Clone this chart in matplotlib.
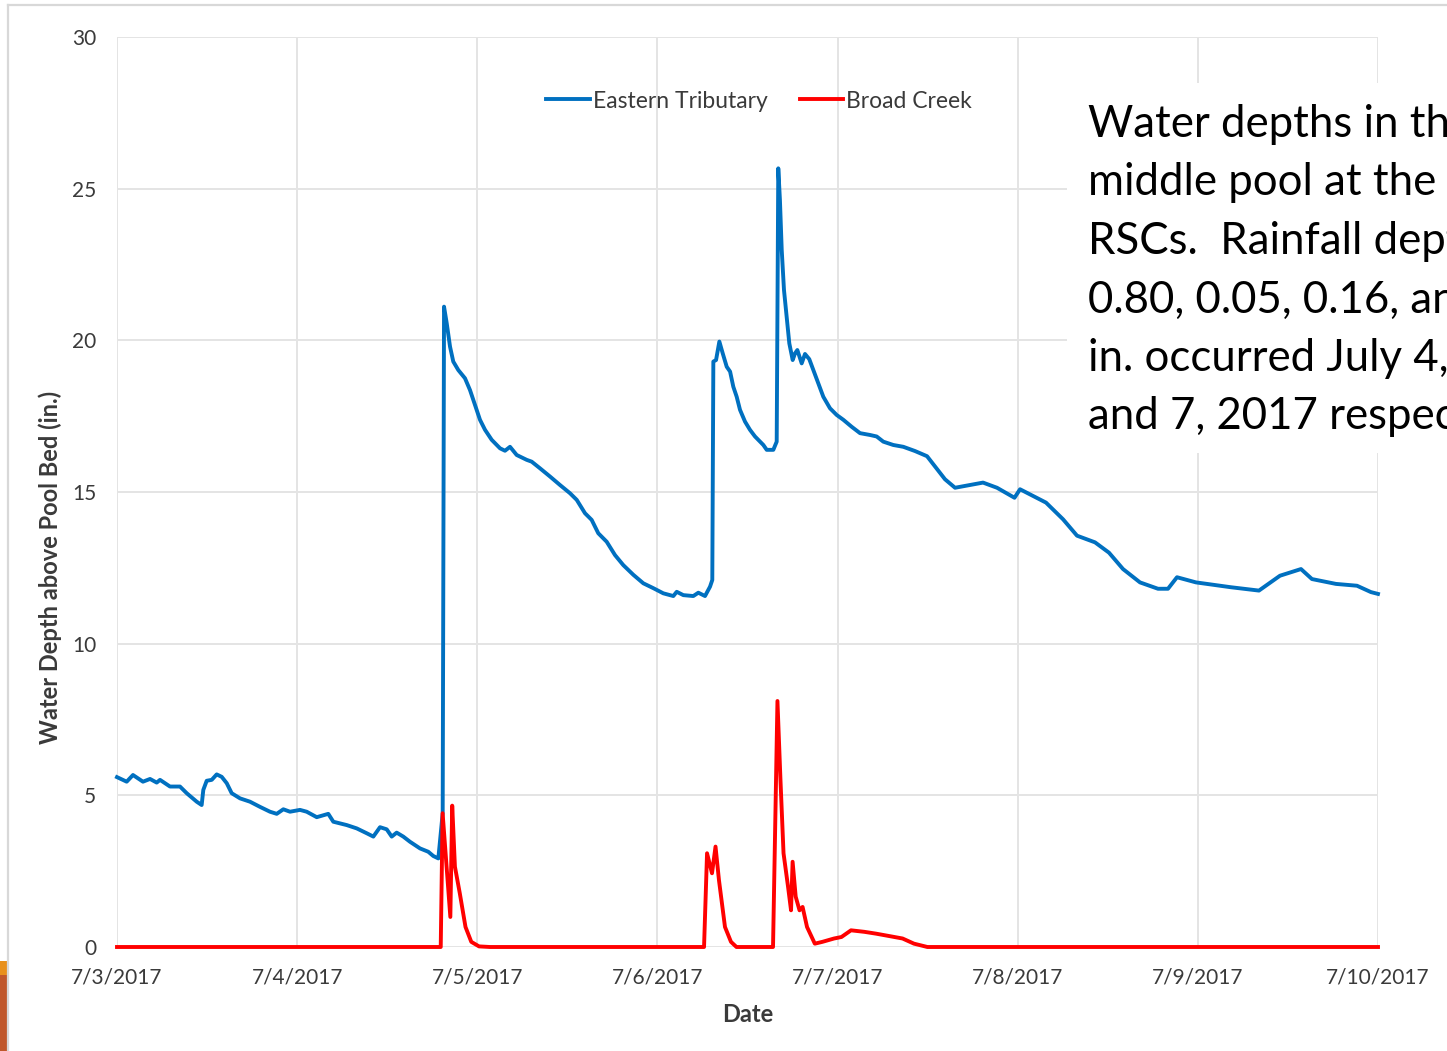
import matplotlib
matplotlib.use("Agg")
import matplotlib.pyplot as plt
from matplotlib.ticker import FuncFormatter, MultipleLocator
from matplotlib.patches import Rectangle
from matplotlib.lines import Line2D
import matplotlib.dates as mdates
import pandas as pd

plt.rcParams["font.family"] = ["Lato", "DejaVu Sans"]

# ---- data: hours after 7/3/2017 00:00 and water depth (in.) ----
start = pd.Timestamp("2017-07-03")

eastern_hours = [
    0.00, 1.29, 2.13, 3.46, 4.40, 5.29, 5.73, 7.06, 8.39, 9.29, 10.62, 11.28,
    11.50, 11.95, 12.62, 13.28, 13.95, 14.62, 15.28, 16.39, 17.72, 19.05, 20.38,
    21.28, 22.16, 23.05, 24.38, 25.27, 26.61, 28.15, 28.82, 30.60, 31.94, 33.27,
    34.15, 35.04, 35.93, 36.60, 37.26, 38.14, 39.03, 40.37, 41.47, 42.14, 42.81,
    43.39, 43.57, 43.93, 44.37, 44.80, 45.47, 46.36, 47.03, 47.69, 48.36, 49.03,
    49.92, 51.03, 51.69, 52.36, 53.25, 54.58, 55.25, 56.36, 57.69, 59.02, 60.35,
    61.25, 62.35, 63.24, 64.12, 65.24, 66.35, 67.45, 68.79, 70.12, 71.45, 72.78,
    74.12, 74.57, 75.45, 76.78, 77.45, 78.34, 79.01, 79.31, 79.45, 79.81, 80.25,
    80.70, 81.23, 81.68, 82.11, 82.56, 83.00, 83.67, 84.33, 85.00, 85.44, 86.11,
    86.56, 87.44, 87.89, 88.10, 88.32, 88.56, 88.86, 89.22, 89.57, 90.02, 90.33,
    90.64, 91.22, 91.66, 92.23, 92.77, 93.43, 94.10, 94.99, 95.88, 96.77, 97.88,
    98.99, 100.32, 101.21, 102.09, 103.42, 104.76, 106.32, 107.92, 110.31,
    111.65, 115.38, 117.24, 119.57, 120.31, 123.77, 126.04, 127.90, 130.30,
    132.16, 134.03, 136.29, 138.69, 140.02, 141.22, 143.75, 148.41, 152.14,
    154.94, 157.74, 159.20, 162.40, 165.20, 167.06, 168.00,
]
eastern_depth = [
    5.60, 5.45, 5.67, 5.45, 5.54, 5.42, 5.51, 5.29, 5.29, 5.07, 4.79, 4.68,
    5.18, 5.48, 5.51, 5.69, 5.61, 5.40, 5.07, 4.90, 4.79, 4.62, 4.46,
    4.39, 4.54, 4.46, 4.52, 4.46, 4.28, 4.39, 4.13, 4.02, 3.91, 3.75,
    3.64, 3.95, 3.88, 3.64, 3.77, 3.64, 3.47, 3.25, 3.14, 3.00, 2.92,
    4.41, 21.11, 20.56, 19.79, 19.30, 19.02, 18.75, 18.36, 17.87, 17.38, 17.05,
    16.72, 16.44, 16.36, 16.49, 16.22, 16.06, 16.00, 15.78, 15.51, 15.23, 14.96,
    14.74, 14.30, 14.08, 13.64, 13.36, 12.92, 12.59, 12.27, 11.99, 11.83, 11.66,
    11.57, 11.71, 11.60, 11.57, 11.68, 11.57, 11.88, 12.10, 19.30, 19.35, 19.96,
    19.57, 19.13, 18.97, 18.47, 18.14, 17.71, 17.32, 17.05, 16.83, 16.72, 16.55,
    16.39, 16.39, 16.66, 25.67, 24.63, 22.98, 21.66, 20.78, 19.90, 19.35, 19.57,
    19.68, 19.24, 19.55, 19.38, 19.02, 18.59, 18.14, 17.76, 17.54, 17.38, 17.15,
    16.94, 16.88, 16.83, 16.66, 16.55, 16.49, 16.35, 16.18, 15.42,
    15.14, 15.31, 15.14, 14.81, 15.09, 14.65, 14.10, 13.56, 13.34,
    13.00, 12.46, 12.02, 11.81, 11.81, 12.19, 12.02, 11.86, 11.75,
    12.24, 12.46, 12.13, 11.97, 11.91, 11.70, 11.64,
]

broad_hours = [
    0.00, 43.13, 43.38, 44.41, 44.66, 45.02, 45.67, 46.43, 47.20, 48.23, 49.69,
    78.21, 78.61, 79.27, 79.74, 80.20, 81.00, 81.80, 82.53,
    87.40, 87.99, 88.39, 88.80, 89.40, 89.80, 90.01, 90.42, 90.93, 91.34,
    91.93, 92.97, 93.98, 95.53, 96.52, 97.79, 99.57, 101.12, 103.12, 104.66,
    106.18, 107.97, 168.00,
]
broad_depth = [
    0.00, 0.00, 4.41, 0.99, 4.66, 2.65, 1.77, 0.66, 0.17, 0.02, 0.00,
    0.00, 3.09, 2.43, 3.31, 2.20, 0.66, 0.17, 0.00,
    0.00, 8.11, 5.52, 3.09, 1.99, 1.21, 2.81, 1.66, 1.21, 1.32,
    0.66, 0.11, 0.17, 0.28, 0.33, 0.55, 0.50, 0.44, 0.35, 0.28,
    0.11, 0.00, 0.00,
]

series_names = ["Eastern Tributary", "Broad Creek"]
x_label = "Date"
y_label = "Water Depth above Pool Bed (in.)"
note_lines = [
    "Water depths in the",
    "middle pool at the",
    "RSCs.  Rainfall depths",
    "0.80, 0.05, 0.16, and",
    "in. occurred July 4,",
    "and 7, 2017 respectively.",
]

eastern_time = start + pd.to_timedelta(eastern_hours, unit="h")
broad_time = start + pd.to_timedelta(broad_hours, unit="h")
day_ticks = pd.date_range("2017-07-03", "2017-07-10", freq="D")

BLUE = "#0070C0"
RED = "#FF0000"
GRID = "#E4E4E4"
TEXT = "#3A3A3A"

W, H = 1447, 1051
fig = plt.figure(figsize=(W / 100, H / 100), dpi=100)
fig.patch.set_facecolor("white")

ax = fig.add_axes([117 / W, 1 - 947 / H, (1378 - 117) / W, (947 - 37) / H])
ax.plot(eastern_time, eastern_depth, color=BLUE, lw=2.8, label=series_names[0],
        solid_joinstyle="round", clip_on=False, zorder=3)
ax.plot(broad_time, broad_depth, color=RED, lw=2.8, label=series_names[1],
        solid_joinstyle="round", clip_on=False, zorder=4)

ax.set_xlim(day_ticks[0], day_ticks[-1])
ax.set_ylim(0, 30)
ax.set_xticks(day_ticks)
ax.xaxis.set_major_formatter(FuncFormatter(
    lambda v, p: (lambda d: f"{d.month}/{d.day}/{d.year}")(mdates.num2date(v))))
ax.yaxis.set_major_locator(MultipleLocator(5))

ax.grid(True, color=GRID, lw=1.4, zorder=0)
ax.set_axisbelow(True)
for s in ax.spines.values():
    s.set_visible(False)
ax.tick_params(axis="both", length=0, labelsize=15, labelcolor=TEXT)
ax.tick_params(axis="y", pad=15)
ax.tick_params(axis="x", pad=15)

fig.text(747.5 / W, 1 - 1014 / H, x_label, ha="center", va="center",
         fontsize=17, fontweight="bold", color=TEXT)
fig.text(50 / W, 1 - 567 / H, y_label, ha="center", va="center", rotation=90,
         fontsize=17, fontweight="bold", color=TEXT)

fig.legend(loc="center", bbox_to_anchor=(759 / W, 1 - 101 / H), ncol=2,
           frameon=False, fontsize=16.5, handlelength=1.9, handletextpad=0.12,
           columnspacing=1.4, labelcolor=TEXT)

# slide frame lines and corner accent
fig.add_artist(Line2D([8 / W, 8 / W], [0, 1 - 5 / H], color="#D8D8D8", lw=1.6))
fig.add_artist(Line2D([8 / W, 1], [1 - 5 / H, 1 - 5 / H], color="#D8D8D8", lw=1.6))
fig.add_artist(Rectangle((0, 1 - 975 / H), 7 / W, 14 / H, transform=fig.transFigure,
                         facecolor="#E8901C", edgecolor="none"))
fig.add_artist(Rectangle((0, 0), 7 / W, 1 - 975 / H, transform=fig.transFigure,
                         facecolor="#C0572B", edgecolor="none"))

# annotation box
fig.add_artist(Rectangle((1067 / W, 1 - 453 / H), (W - 1067) / W + 0.01, (453 - 83) / H,
                         transform=fig.transFigure, facecolor="white",
                         edgecolor="none", zorder=5))
fig.text(1088 / W, 1 - 104 / H, "\n".join(note_lines), ha="left", va="top",
         fontsize=31.5, linespacing=1.53, color="black", zorder=6)

fig.savefig("out.png", dpi=100)
